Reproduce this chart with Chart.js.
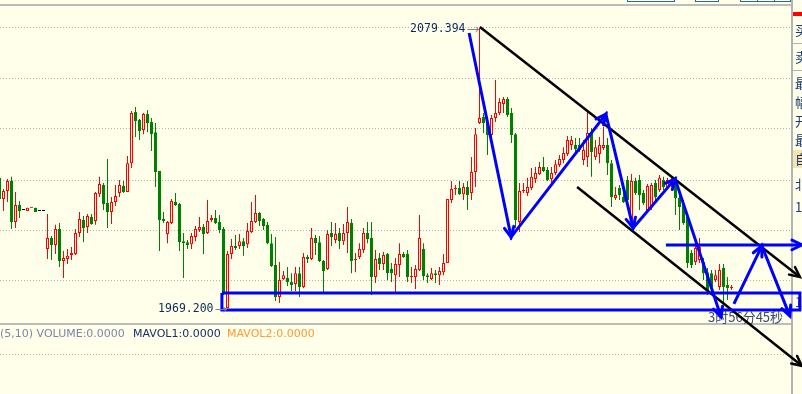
<!DOCTYPE html>
<html>
<head>
<meta charset="utf-8">
<script src="https://cdn.jsdelivr.net/npm/chart.js@4.4.1/dist/chart.umd.min.js"></script>
<style>
  html, body { margin: 0; padding: 0; background: #ffffea; }
  canvas { display: block; }
</style>
</head>
<body>
<canvas id="kChart" width="802" height="394"></canvas>
<script>
// candle prices, one entry per bar (index 0 = leftmost, partly cut off)
const opens = [
  2020.4, 2012.1, 2015.2, 2019.2, 2003.0, 2009.7, 2007.8, 2007.4, 2008.6, 2008.6,
  2007.4, 2007.4, 1992.4, 1996.7, 1994.0, 2000.3, 1987.7, 1988.5, 1990.0, 1990.4,
  1998.7, 2003.8, 2001.1, 2005.0, 2003.4, 2014.0, 2017.6, 2010.5, 2007.0, 2010.9,
  2014.4, 2017.2, 2014.8, 2026.2, 2046.3, 2043.2, 2039.2, 2045.5, 2042.4, 2038.4,
  2023.1, 2004.2, 1998.3, 2002.6, 2010.9, 2010.1, 1995.5, 1995.1, 1994.3, 1997.1,
  1999.9, 2001.1, 1998.7, 2003.8, 2004.6, 2003.0, 2000.3, 1969.2, 1990.4, 1993.6,
  1993.6, 1995.5, 1994.3, 1999.1, 2003.0, 2006.6, 2004.2, 2001.9, 1994.7, 1986.1,
  1973.5, 1980.6, 1981.0, 1979.4, 1978.6, 1982.9, 1977.4, 1989.3, 1988.5, 1996.7,
  1995.1, 1987.7, 1984.5, 1998.7, 1995.9, 1998.7, 1995.5, 1998.7, 2002.6, 1988.1,
  1989.3, 1992.0, 1998.7, 1996.7, 1981.4, 1988.9, 1986.5, 1990.4, 1984.5, 1982.1,
  1986.1, 1990.4, 1990.4, 1981.4, 1981.4, 1984.1, 1992.4, 1982.1, 1980.6, 1982.9,
  1982.1, 1983.3, 1986.9, 2011.7, 2016.0, 2016.4, 2014.0, 2016.8, 2014.4, 2022.7,
  2042.0, 2044.4, 2042.0, 2037.3, 2044.0, 2045.9, 2049.5, 2051.4, 2045.9, 2037.6,
  2003.0, 2015.2, 2014.4, 2016.4, 2020.0, 2021.9, 2024.7, 2023.5, 2020.0, 2022.3,
  2025.5, 2027.4, 2029.8, 2033.3, 2033.3, 2033.3, 2027.4, 2028.6, 2038.1, 2028.6,
  2029.8, 2032.2, 2033.3, 2026.2, 2012.5, 2016.4, 2012.9, 2019.6, 2003.8, 2019.2,
  2019.6, 2014.4, 2007.8, 2008.6, 2018.4, 2015.6, 2019.6, 2016.8, 2017.6, 2018.4,
  2012.5, 2009.7, 2005.0, 1990.8, 1987.3, 1988.1, 1987.3, 1983.3, 1982.9, 1980.2,
  1977.4, 1984.9, 1978.2, 1977.0
];
const highs = [
  2020.8, 2016.0, 2020.0, 2020.8, 2014.8, 2011.3, 2007.8, 2008.6, 2008.6, 2008.6,
  2007.4, 2007.4, 2006.2, 1997.5, 2001.9, 2002.6, 1991.6, 1992.4, 1993.2, 2000.3,
  2007.0, 2005.4, 2006.2, 2006.2, 2014.8, 2020.8, 2018.4, 2027.8, 2012.9, 2017.6,
  2019.6, 2019.2, 2029.0, 2046.7, 2048.3, 2043.6, 2045.9, 2047.1, 2044.0, 2042.0,
  2023.1, 2007.0, 2003.4, 2012.1, 2014.4, 2010.5, 1998.7, 1995.9, 1998.7, 2001.5,
  2005.0, 2002.2, 2011.7, 2005.8, 2007.8, 2005.8, 2001.1, 1991.6, 1996.3, 1997.9,
  1998.3, 1996.7, 2002.6, 2010.9, 2013.7, 2007.0, 2004.6, 2003.0, 1998.3, 1997.1,
  1987.3, 1983.7, 1985.3, 1982.9, 1985.3, 1985.3, 1990.8, 1990.0, 2000.7, 1997.9,
  1997.5, 1988.1, 1999.9, 2003.0, 2002.6, 2000.7, 2002.2, 2008.9, 2004.2, 1990.8,
  1994.7, 2000.7, 2003.0, 2003.0, 1992.0, 1990.8, 1991.2, 1990.8, 1986.9, 1988.9,
  1994.7, 1991.2, 1992.0, 1985.3, 1986.1, 2005.8, 1994.7, 1982.9, 1984.9, 1984.1,
  1985.3, 1990.4, 2012.1, 2019.2, 2017.6, 2019.2, 2018.4, 2019.2, 2028.6, 2040.0,
  2079.394, 2045.9, 2044.4, 2045.1, 2058.9, 2051.8, 2052.2, 2052.2, 2047.9, 2038.1,
  2018.4, 2018.4, 2020.4, 2024.3, 2024.7, 2026.6, 2028.6, 2024.7, 2024.7, 2027.4,
  2029.4, 2032.5, 2036.9, 2036.9, 2036.1, 2036.1, 2035.3, 2047.1, 2040.0, 2035.3,
  2036.5, 2040.4, 2036.1, 2027.4, 2016.8, 2017.6, 2014.8, 2021.1, 2021.9, 2020.4,
  2021.5, 2015.6, 2018.0, 2018.4, 2019.6, 2021.5, 2020.8, 2020.4, 2020.8, 2020.4,
  2013.7, 2011.7, 2005.8, 1992.0, 1995.9, 1996.7, 1988.9, 1984.9, 1984.1, 1984.1,
  1986.5, 1986.5, 1981.4, 1978.2
];
const lows = [
  2011.7, 2007.4, 2010.9, 2000.3, 2000.7, 2004.6, 2007.8, 2007.4, 2008.6, 2007.0,
  2007.4, 2007.4, 1988.5, 1988.1, 1990.4, 1985.3, 1981.0, 1986.5, 1988.1, 1990.0,
  1997.1, 1995.1, 1998.7, 2001.9, 2001.9, 2012.9, 2007.8, 2000.7, 2002.2, 2009.3,
  2012.9, 2014.4, 2014.8, 2024.3, 2036.5, 2035.3, 2037.6, 2038.4, 2031.0, 2016.8,
  1991.6, 2002.6, 1994.7, 2002.2, 2009.3, 1991.6, 1981.0, 1992.4, 1992.4, 1995.5,
  1999.1, 1990.4, 1998.3, 2003.0, 2002.2, 1998.7, 1974.3, 1969.2, 1988.5, 1992.0,
  1992.4, 1989.7, 1992.8, 1998.7, 2002.6, 2001.5, 1999.9, 1994.3, 1985.3, 1971.9,
  1971.1, 1980.2, 1977.8, 1975.9, 1975.9, 1973.5, 1977.0, 1986.9, 1988.1, 1990.0,
  1987.3, 1975.5, 1984.1, 1993.6, 1994.7, 1992.4, 1994.0, 1990.8, 1982.9, 1983.3,
  1988.5, 1990.8, 1994.7, 1974.3, 1979.0, 1984.1, 1984.1, 1980.2, 1979.4, 1975.5,
  1981.4, 1988.9, 1979.4, 1979.0, 1976.7, 1983.7, 1980.2, 1979.0, 1980.2, 1979.0,
  1978.2, 1982.1, 1986.9, 2010.5, 2013.7, 2013.7, 2011.7, 2007.8, 2011.7, 2016.8,
  2041.6, 2038.1, 2029.4, 2035.3, 2042.4, 2045.1, 2045.9, 2044.4, 2034.1, 2000.7,
  1999.1, 2014.4, 2013.3, 2015.6, 2018.4, 2021.5, 2022.7, 2019.2, 2018.4, 2021.5,
  2024.7, 2026.2, 2029.0, 2031.4, 2030.6, 2030.6, 2025.5, 2024.7, 2020.8, 2027.4,
  2026.2, 2031.4, 2021.5, 2008.9, 2011.7, 2011.7, 2010.5, 2010.1, 2003.0, 2013.7,
  2007.8, 2009.7, 2007.0, 2007.8, 2011.7, 2014.8, 2015.6, 2016.0, 2016.8, 2005.8,
  1999.9, 2001.9, 1984.9, 1984.9, 1986.1, 1986.9, 1980.2, 1974.3, 1976.3, 1979.4,
  1976.3, 1971.5, 1972.3, 1976.3
];
const closes = [
  2012.1, 2015.2, 2019.2, 2003.0, 2009.7, 2007.4, 2007.8, 2008.6, 2008.6, 2007.0,
  2007.4, 2007.4, 1996.7, 1994.0, 2000.3, 1987.7, 1988.9, 1989.7, 1990.8, 1998.7,
  2004.2, 2000.7, 2005.4, 2002.2, 2014.4, 2018.0, 2010.1, 2007.0, 2010.9, 2013.3,
  2017.6, 2014.8, 2026.2, 2045.9, 2042.8, 2038.8, 2045.5, 2042.0, 2037.6, 2022.7,
  2003.8, 2003.4, 2003.0, 2011.3, 2009.7, 1995.1, 1994.7, 1994.0, 1997.5, 2000.3,
  2001.1, 1998.3, 2003.4, 2004.6, 2002.6, 1999.9, 1975.1, 1990.4, 1993.6, 1992.8,
  1995.5, 1993.6, 1999.5, 2003.4, 2006.6, 2003.4, 2001.5, 1994.7, 1985.7, 1973.5,
  1980.2, 1982.1, 1979.4, 1978.2, 1982.9, 1977.4, 1989.3, 1988.5, 1996.7, 1994.7,
  1987.7, 1983.7, 1998.3, 1997.1, 1998.3, 1995.5, 1998.7, 2003.0, 1987.7, 1988.5,
  1992.4, 1998.7, 1996.3, 1981.4, 1988.5, 1986.5, 1990.0, 1982.9, 1982.9, 1986.5,
  1990.4, 1989.3, 1981.4, 1981.8, 1984.5, 1996.7, 1981.8, 1981.4, 1982.9, 1982.1,
  1983.7, 1986.9, 2012.1, 2016.0, 2016.4, 2014.0, 2016.8, 2013.7, 2022.7, 2037.6,
  2044.0, 2042.0, 2037.3, 2044.0, 2045.9, 2050.3, 2051.4, 2045.1, 2037.3, 2003.8,
  2015.2, 2015.6, 2016.8, 2020.8, 2022.3, 2024.7, 2023.1, 2019.6, 2022.3, 2025.8,
  2027.8, 2030.2, 2035.3, 2035.3, 2031.8, 2031.4, 2031.4, 2038.1, 2030.6, 2032.5,
  2033.3, 2033.3, 2026.2, 2012.9, 2013.7, 2013.7, 2010.9, 2011.7, 2019.2, 2014.4,
  2013.7, 2010.5, 2017.2, 2017.6, 2012.9, 2020.4, 2016.8, 2019.6, 2019.6, 2012.5,
  2008.9, 2002.6, 1986.9, 1986.1, 1992.8, 1993.2, 1982.9, 1976.3, 1977.4, 1982.1,
  1984.1, 1977.4, 1977.0, 1977.4
];

// price levels of the dotted grid lines
const gridLevels = [2079.39, 2059.51, 2039.64, 2019.56, 1999.69, 1979.81];

// hand-drawn annotations, in (bar index, price)
const zigzagX = [117.4, 127.9, 151.6, 158.4, 168.9, 180.4];
const zigzagY = [2077.4, 1997.1, 2045.5, 2000.7, 2020.0, 1965.6];
const forecastX = [183.6, 190.6, 197.6];
const forecastY = [1970.8, 1993.6, 1966.0];
const levelX = [166.6, 200.6];
const levelY = [1994.0, 1994.0];
const boxX = [55.6, 200.1];
const boxY = [1975.1, 1968.4];
const upperTrendX = [120.1, 200.1];
const upperTrendY = [2079.8, 1981.4];
const lowerTrendX = [144.4, 200.6];
const lowerTrendY = [2016.8, 1946.4];

const volumeText = ['(5,10) VOLUME:0.0000', 'MAVOL1:0.0000', 'MAVOL2:0.0000'];
const clockText = '3时56分45秒';
const sideLabels = ['买', '卖', '最', '幅', '开', '最', '自', '北', '1', '1'];

const bg = '#ffffea';
const up = '#ff0000', down = '#008000', flat = '#000000';
const blue = '#0000ff';

function colorOf(i) {
  if (closes[i] > opens[i]) return up;
  if (closes[i] < opens[i]) return down;
  return flat;
}
const zip = (xs, ys) => xs.map((x, k) => ({ x: x, y: ys[k] }));

const wickData = highs.map((h, i) => ({ x: i, y: [lows[i], h] }));
const bodyData = opens.map((o, i) => ({ x: i, y: [o, closes[i]] }));
const colors = opens.map((o, i) => colorOf(i));

function lineSet(pts, color, width, heads) {
  return {
    type: 'line', data: pts, borderColor: color, borderWidth: width,
    pointRadius: 0, tension: 0, fill: false, order: 0,
    borderJoinStyle: 'miter', heads: heads
  };
}

function drawHead(ctx, a, b, color, width) {
  const ang = Math.atan2(b.y - a.y, b.x - a.x);
  const len = 11;
  ctx.save();
  ctx.strokeStyle = color;
  ctx.lineWidth = width;
  ctx.lineCap = 'round';
  ctx.beginPath();
  ctx.moveTo(b.x - len * Math.cos(ang - 0.45), b.y - len * Math.sin(ang - 0.45));
  ctx.lineTo(b.x, b.y);
  ctx.lineTo(b.x - len * Math.cos(ang + 0.45), b.y - len * Math.sin(ang + 0.45));
  ctx.stroke();
  ctx.restore();
}

const chrome = {
  id: 'chrome',
  beforeDraw(chart) {
    const ctx = chart.ctx;
    ctx.save();
    ctx.fillStyle = bg;
    ctx.fillRect(0, 0, chart.width, chart.height);
    ctx.restore();
  },
  beforeDatasetsDraw(chart) {
    const ctx = chart.ctx;
    ctx.save();
    // panel borders
    ctx.fillStyle = '#bcbcbc';
    ctx.fillRect(0, 4, 792, 2);
    ctx.fillRect(0, 323, 792, 2);
    ctx.strokeStyle = '#b4b4b4';
    ctx.lineWidth = 1;
    ctx.setLineDash([1, 2]);
    ctx.beginPath();
    ctx.moveTo(0, 354.5);
    ctx.lineTo(792, 354.5);
    ctx.stroke();
    ctx.setLineDash([]);

    // volume legend
    ctx.font = '11px "DejaVu Sans"';
    ctx.textBaseline = 'middle';
    ctx.fillStyle = '#7a86a8';
    ctx.fillText(volumeText[0], 0, 334);
    ctx.fillStyle = '#16306a';
    ctx.fillText(volumeText[1], 133, 334);
    ctx.fillStyle = '#ff9933';
    ctx.fillText(volumeText[2], 227, 334);

    // top tabs
    ctx.strokeStyle = '#2a6a8a';
    [[627, 47], [695, 23], [740, 17], [757, 17], [774, 16]].forEach(t => {
      ctx.strokeRect(t[0] + 0.5, -10, t[1], 11.5);
    });

    // right side panel
    ctx.fillStyle = bg;
    ctx.fillRect(792, 0, 10, 394);
    ctx.fillStyle = '#b4b4b4';
    ctx.fillRect(791, 0, 2, 394);
    ctx.fillRect(793, 43, 9, 1);
    ctx.fillRect(793, 70, 9, 1);
    ctx.fillStyle = '#ff0000';
    ctx.fillRect(793, 12, 9, 4);
    ctx.fillStyle = '#f7e3ad';
    ctx.fillRect(793, 150, 9, 18);
    ctx.font = '13px "Noto Sans CJK SC"';
    ctx.fillStyle = '#1a3a70';
    const sideY = [30, 57, 83, 102, 121, 140, 159, 184, 207, 302];
    sideLabels.forEach((s, k) => ctx.fillText(s, 795, sideY[k]));

    // session clock
    ctx.font = '13px "Noto Sans CJK SC"';
    ctx.fillStyle = '#3a4a78';
    ctx.fillText(clockText, 708, 317);
    ctx.restore();
  },
  afterDatasetsDraw(chart) {
    const ctx = chart.ctx;
    chart.data.datasets.forEach((ds, di) => {
      if (!ds.heads) return;
      const pts = chart.getDatasetMeta(di).data;
      for (let k = 1; k < pts.length; k++) {
        if (ds.heads === 'last' && k !== pts.length - 1) continue;
        drawHead(ctx, pts[k - 1], pts[k], ds.borderColor, ds.borderWidth);
      }
    });

    // high / low markers
    const xs = chart.scales.x, ys = chart.scales.y;
    const hiVal = Math.max(...highs), loVal = Math.min(...lows);
    const marks = [[highs.indexOf(hiVal), hiVal], [lows.indexOf(loVal), loVal]];
    ctx.save();
    marks.forEach(m => {
      const px = xs.getPixelForValue(m[0]);
      const py = Math.round(ys.getPixelForValue(m[1])) + 1.5;
      ctx.strokeStyle = '#808080';
      ctx.lineWidth = 1;
      ctx.beginPath();
      ctx.moveTo(px - 12, py);
      ctx.lineTo(px - 1, py);
      ctx.moveTo(px - 4, py - 2.5);
      ctx.lineTo(px - 1, py);
      ctx.lineTo(px - 4, py + 2.5);
      ctx.stroke();
      ctx.font = '11.5px "DejaVu Sans Mono"';
      ctx.fillStyle = '#0c2a5c';
      ctx.textAlign = 'right';
      ctx.textBaseline = 'middle';
      ctx.fillText(m[1].toFixed(3), px - 14, py);
    });
    ctx.restore();
  }
};

new Chart(document.getElementById('kChart'), {
  type: 'bar',
  data: {
    datasets: [
      lineSet(zip(zigzagX, zigzagY), blue, 3, 'all'),
      lineSet(zip(forecastX, forecastY), blue, 3, 'all'),
      lineSet(zip(levelX, levelY), blue, 3, 'last'),
      lineSet(zip([boxX[0], boxX[1], boxX[1], boxX[0], boxX[0]],
                  [boxY[0], boxY[0], boxY[1], boxY[1], boxY[0]]), blue, 3, null),
      lineSet(zip(upperTrendX, upperTrendY), '#000000', 2.5, 'last'),
      lineSet(zip(lowerTrendX, lowerTrendY), '#000000', 2.5, 'last'),
      {
        data: bodyData, grouped: false, barThickness: 3, order: 1,
        backgroundColor: colors.map(c => (c === up ? bg : c)),
        borderColor: colors, borderWidth: 1, borderSkipped: false,
        minBarLength: 1, inflateAmount: 0
      },
      {
        data: wickData, grouped: false, barThickness: 1, order: 2,
        backgroundColor: colors, borderWidth: 0, inflateAmount: 0
      }
    ]
  },
  options: {
    responsive: false,
    animation: false,
    events: [],
    layout: { padding: 0 },
    plugins: { legend: { display: false }, tooltip: { enabled: false } },
    scales: {
      x: { type: 'linear', min: 0.125, max: 200.625, offset: false, display: false },
      y: {
        min: 1935.33, max: 2090.41,
        ticks: { display: false },
        grid: { color: '#b4b4b4', drawTicks: false },
        border: { display: false, dash: [1, 2] },
        afterBuildTicks: axis => { axis.ticks = gridLevels.map(v => ({ value: v })); }
      }
    }
  },
  plugins: [chrome]
});
</script>
</body>
</html>
